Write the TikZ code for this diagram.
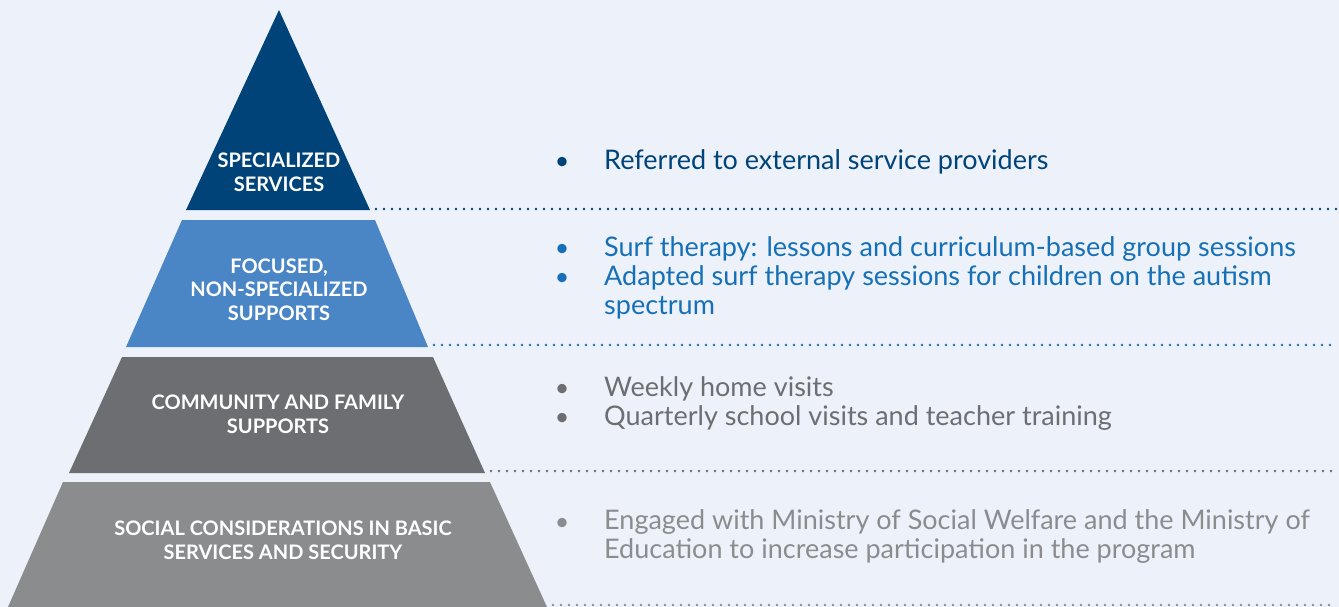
\documentclass[tikz,border=0pt]{standalone}
\usepackage{fontspec}
\setmainfont{Lato}
\definecolor{bgpale}{HTML}{EDF2FA}
\definecolor{navy}{HTML}{004379}
\definecolor{midblue}{HTML}{4A86C6}
\definecolor{textblue}{HTML}{1670B8}
\definecolor{darkgray}{HTML}{6D6E71}
\definecolor{lightgray}{HTML}{8B8C8E}
\begin{document}
\begin{tikzpicture}[x=1pt,y=-1pt,
  tierlabel/.style={text=white, font=\bfseries\fontsize{20}{23.5}\selectfont, align=center, anchor=base, inner sep=0pt},
  item/.style={font=\fontsize{27}{29}\selectfont, align=left, anchor=base west, inner sep=0pt},
  bulletmark/.style={font=\fontsize{25}{29}\selectfont, anchor=base, inner sep=0pt},
  divider/.style={line width=2.6pt, line cap=round, dash pattern=on 0pt off 8pt}
]
% canvas
\fill[bgpale] (0,0) rectangle (1339,607);
\useasboundingbox (0,0) rectangle (1339,607);

% pyramid tiers
\fill[navy] (279,10) -- (370,210) coordinate (t1r) -- (186,210) -- cycle;
\fill[midblue] (182,220) -- (375,220) -- (428,347) coordinate (t2r) -- (126,347) -- cycle;
\fill[darkgray] (122,357) -- (433,357) -- (485,473) coordinate (t3r) -- (69,473) -- cycle;
\fill[lightgray] (63,482) -- (490,482) -- (547,607) coordinate (t4r) -- (8,607) -- cycle;

% tier labels (anchored at the baseline of their last line)
\node[tierlabel] (l1) at (279,191) {SPECIALIZED\\SERVICES};
\node[tierlabel] (l2) at (279,320) {FOCUSED,\\NON-SPECIALIZED\\SUPPORTS};
\node[tierlabel] (l3) at (278,433) {COMMUNITY AND FAMILY\\SUPPORTS};
\node[tierlabel] (l4) at (283,559) {SOCIAL CONSIDERATIONS IN BASIC\\SERVICES AND SECURITY};

% dotted dividers
\coordinate (e1) at (1339,209);
\coordinate (e2) at (1334,345);
\coordinate (e3) at (1334,471);
\coordinate (e4) at (1334,605);
\draw[divider, navy] ([xshift=6pt,yshift=1pt]t1r) -- (e1);
\draw[divider, textblue] ([xshift=6pt,yshift=2pt]t2r) -- (e2);
\draw[divider, darkgray] ([xshift=6pt,yshift=2pt]t3r) -- (e3);
\draw[divider, lightgray] ([xshift=6pt,yshift=2pt]t4r) -- (e4);

% descriptions
\node[bulletmark, text=navy] (b1) at (562,170) {•};
\node[item, text=navy] (d1) at (604,170) {Referred to external service providers};

\node[bulletmark, text=textblue] (b2) at (562,256) {•};
\node[item, text=textblue] (d2) at (604,256) {Surf therapy: lessons and curriculum-based group sessions};
\node[bulletmark, text=textblue] (b3) at (562,285) {•};
\node[item, text=textblue] (d3) at (604,314) {Adapted surf therapy sessions for children on the autism\\spectrum};

\node[bulletmark, text=darkgray] (b4) at (562,396) {•};
\node[item, text=darkgray] (d4) at (604,396) {Weekly home visits};
\node[bulletmark, text=darkgray] (b5) at (562,425) {•};
\node[item, text=darkgray] (d5) at (604,425) {Quarterly school visits and teacher training};

\node[bulletmark, text=lightgray] (b6) at (562,530) {•};
\node[item, text=lightgray] (d6) at (604,558) {Engaged with Ministry of Social Welfare and the Ministry of\\Education to increase participation in the program};
\end{tikzpicture}
\end{document}
